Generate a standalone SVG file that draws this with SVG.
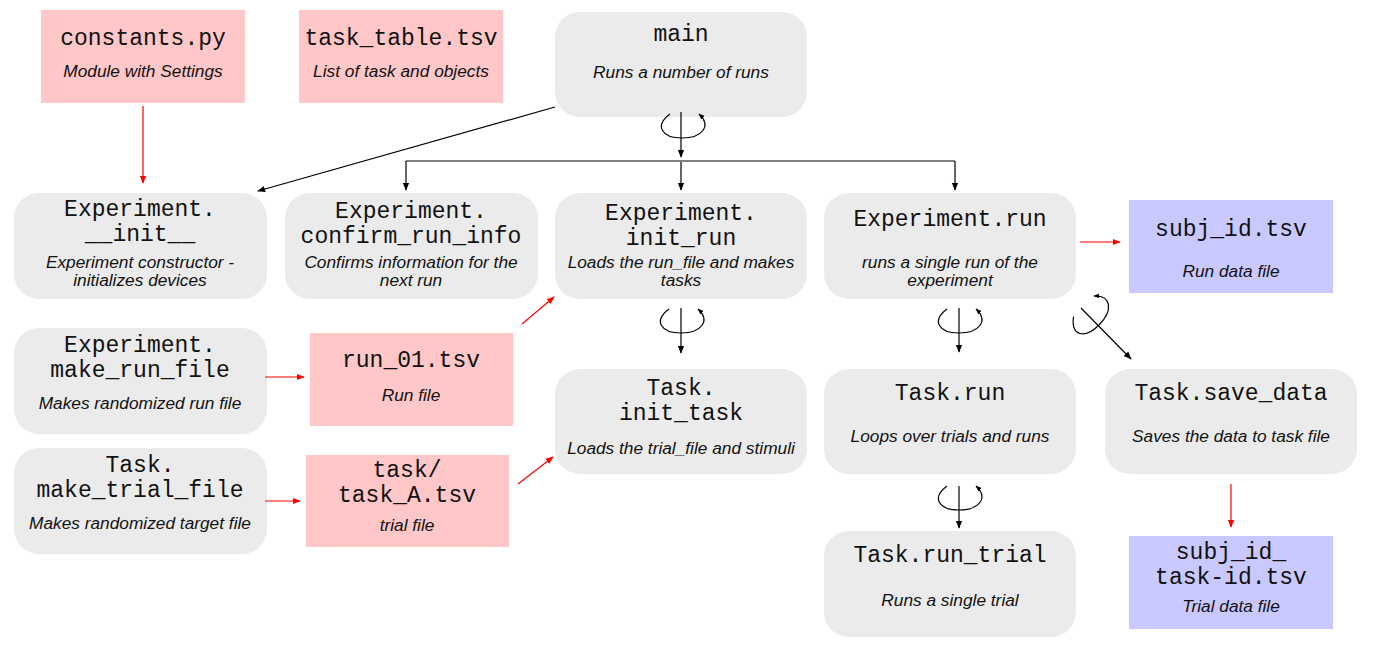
<svg xmlns="http://www.w3.org/2000/svg" xmlns:xlink="http://www.w3.org/1999/xlink" width="1374" height="660" viewBox="0 0 1374 660">
<style>
.fn{fill:#ebebeb}
.pk{fill:#ffc7c7}
.bl{fill:#c9c9ff}
.t{font-family:"Liberation Mono","DejaVu Sans Mono",monospace;font-size:23px;fill:#111;text-anchor:middle}
.s{font-family:"Liberation Sans",Arial,sans-serif;font-size:17.3px;font-style:italic;fill:#111;text-anchor:middle}
.k{stroke:#000;stroke-width:1.2;fill:none}
.r{stroke:#f00;stroke-width:1.2;fill:none}
</style>
<defs>
<marker id="ak" viewBox="0 0 10 10" refX="9" refY="5" markerWidth="8" markerHeight="8" markerUnits="userSpaceOnUse" orient="auto"><path d="M0,1 L10,5 L0,9 z" fill="#000"/></marker>
<marker id="ar" viewBox="0 0 10 10" refX="9" refY="5" markerWidth="8" markerHeight="8" markerUnits="userSpaceOnUse" orient="auto"><path d="M0,1 L10,5 L0,9 z" fill="#f00"/></marker>
<marker id="al" viewBox="0 0 10 10" refX="9" refY="5" markerWidth="6" markerHeight="6" markerUnits="userSpaceOnUse" orient="auto"><path d="M0,1 L10,5 L0,9 z" fill="#000"/></marker>
<path id="loop" d="M -12 -24 C -28 -12, -20 0, 0 0 C 20 0, 30 -12, 17 -24" stroke="#000" stroke-width="1.2" fill="none" marker-end="url(#al)"/>
</defs>

<g id="constants"><rect class="pk" x="41" y="10" width="204" height="93"/><text class="t" x="143" y="45">constants.py</text><text class="s" x="143" y="77">Module with Settings</text></g>
<g id="task_table"><rect class="pk" x="299" y="10" width="204" height="93"/><text class="t" x="401" y="45">task_table.tsv</text><text class="s" x="401" y="77">List of task and objects</text></g>
<g id="main"><rect class="fn" x="555" y="12" width="252" height="105" rx="25"/><text class="t" x="681" y="41">main</text><text class="s" x="681" y="78">Runs a number of runs</text></g>

<g id="exp_init"><rect class="fn" x="14" y="193" width="253" height="106" rx="25"/><text class="t" x="140" y="216">Experiment.</text><text class="t" x="140" y="241">__init__</text><text class="s" x="140" y="268">Experiment constructor -</text><text class="s" x="140" y="286">initializes devices</text></g>
<g id="confirm"><rect class="fn" x="285" y="193" width="253" height="106" rx="25"/><text class="t" x="411" y="218">Experiment.</text><text class="t" x="411" y="243">confirm_run_info</text><text class="s" x="411" y="268">Confirms information for the</text><text class="s" x="411" y="286">next run</text></g>
<g id="init_run"><rect class="fn" x="555" y="193" width="252" height="106" rx="25"/><text class="t" x="681" y="220">Experiment.</text><text class="t" x="681" y="245">init_run</text><text class="s" x="681" y="268">Loads the run_file and makes</text><text class="s" x="681" y="286">tasks</text></g>
<g id="exp_run"><rect class="fn" x="824" y="193" width="252" height="106" rx="25"/><text class="t" x="950" y="226">Experiment.run</text><text class="s" x="950" y="268">runs a single run of the</text><text class="s" x="950" y="286">experiment</text></g>
<g id="subj_id"><rect class="bl" x="1129" y="200" width="204" height="93"/><text class="t" x="1231" y="236">subj_id.tsv</text><text class="s" x="1231" y="277">Run data file</text></g>

<g id="make_run_file"><rect class="fn" x="14" y="328" width="253" height="106" rx="25"/><text class="t" x="140" y="352">Experiment.</text><text class="t" x="140" y="377">make_run_file</text><text class="s" x="140" y="409">Makes randomized run file</text></g>
<g id="run_01"><rect class="pk" x="310" y="333" width="203" height="93"/><text class="t" x="411" y="367">run_01.tsv</text><text class="s" x="411" y="401">Run file</text></g>
<g id="make_trial_file"><rect class="fn" x="14" y="448" width="253" height="106" rx="25"/><text class="t" x="140" y="472">Task.</text><text class="t" x="140" y="497">make_trial_file</text><text class="s" x="140" y="529">Makes randomized target file</text></g>
<g id="task_A"><rect class="pk" x="306" y="455" width="203" height="92"/><text class="t" x="407" y="477">task/</text><text class="t" x="407" y="502">task_A.tsv</text><text class="s" x="407" y="531">trial file</text></g>

<g id="init_task"><rect class="fn" x="555" y="369" width="252" height="105" rx="25"/><text class="t" x="681" y="395">Task.</text><text class="t" x="681" y="420">init_task</text><text class="s" x="681" y="454">Loads the trial_file and stimuli</text></g>
<g id="task_run"><rect class="fn" x="824" y="369" width="252" height="105" rx="25"/><text class="t" x="950" y="400">Task.run</text><text class="s" x="950" y="442">Loops over trials and runs</text></g>
<g id="save_data"><rect class="fn" x="1105" y="369" width="252" height="105" rx="25"/><text class="t" x="1231" y="400">Task.save_data</text><text class="s" x="1231" y="442">Saves the data to task file</text></g>
<g id="run_trial"><rect class="fn" x="824" y="531" width="252" height="106" rx="25"/><text class="t" x="950" y="562">Task.run_trial</text><text class="s" x="950" y="606">Runs a single trial</text></g>
<g id="subj_task"><rect class="bl" x="1129" y="536" width="204" height="93"/><text class="t" x="1231" y="559">subj_id_</text><text class="t" x="1231" y="584">task-id.tsv</text><text class="s" x="1231" y="612">Trial data file</text></g>

<g id="connectors">
<line class="r" x1="143" y1="106" x2="143" y2="183" marker-end="url(#ar)"/>
<line class="k" x1="555" y1="107" x2="258" y2="191" marker-end="url(#ak)"/>
<line class="k" x1="681" y1="112" x2="681" y2="157" marker-end="url(#ak)"/>
<line class="k" x1="406" y1="161" x2="955" y2="161"/>
<line class="k" x1="406" y1="161" x2="406" y2="190" marker-end="url(#ak)"/>
<line class="k" x1="681" y1="162" x2="681" y2="190" marker-end="url(#ak)"/>
<line class="k" x1="955" y1="161" x2="955" y2="190" marker-end="url(#ak)"/>
<use xlink:href="#loop" transform="translate(682,138)"/>

<line class="k" x1="681" y1="308" x2="681" y2="353" marker-end="url(#ak)"/>
<use xlink:href="#loop" transform="translate(681,333)"/>
<line class="k" x1="959" y1="308" x2="959" y2="352" marker-end="url(#ak)"/>
<use xlink:href="#loop" transform="translate(959,333)"/>
<line class="k" x1="959" y1="486" x2="959" y2="528" marker-end="url(#ak)"/>
<use xlink:href="#loop" transform="translate(959,510)"/>
<line class="k" x1="1081" y1="308" x2="1131" y2="359" marker-end="url(#ak)"/>
<use xlink:href="#loop" transform="translate(1099,325) rotate(-45)"/>

<line class="r" x1="1080" y1="242" x2="1120" y2="242" marker-end="url(#ar)"/>
<line class="r" x1="265" y1="377" x2="304" y2="377" marker-end="url(#ar)"/>
<line class="r" x1="265" y1="501" x2="300" y2="501" marker-end="url(#ar)"/>
<line class="r" x1="522" y1="324" x2="554" y2="297" marker-end="url(#ar)"/>
<line class="r" x1="518" y1="484" x2="553" y2="457" marker-end="url(#ar)"/>
<line class="r" x1="1231" y1="484" x2="1231" y2="527" stroke-width="2" marker-end="url(#ar)"/>
</g>
</svg>
